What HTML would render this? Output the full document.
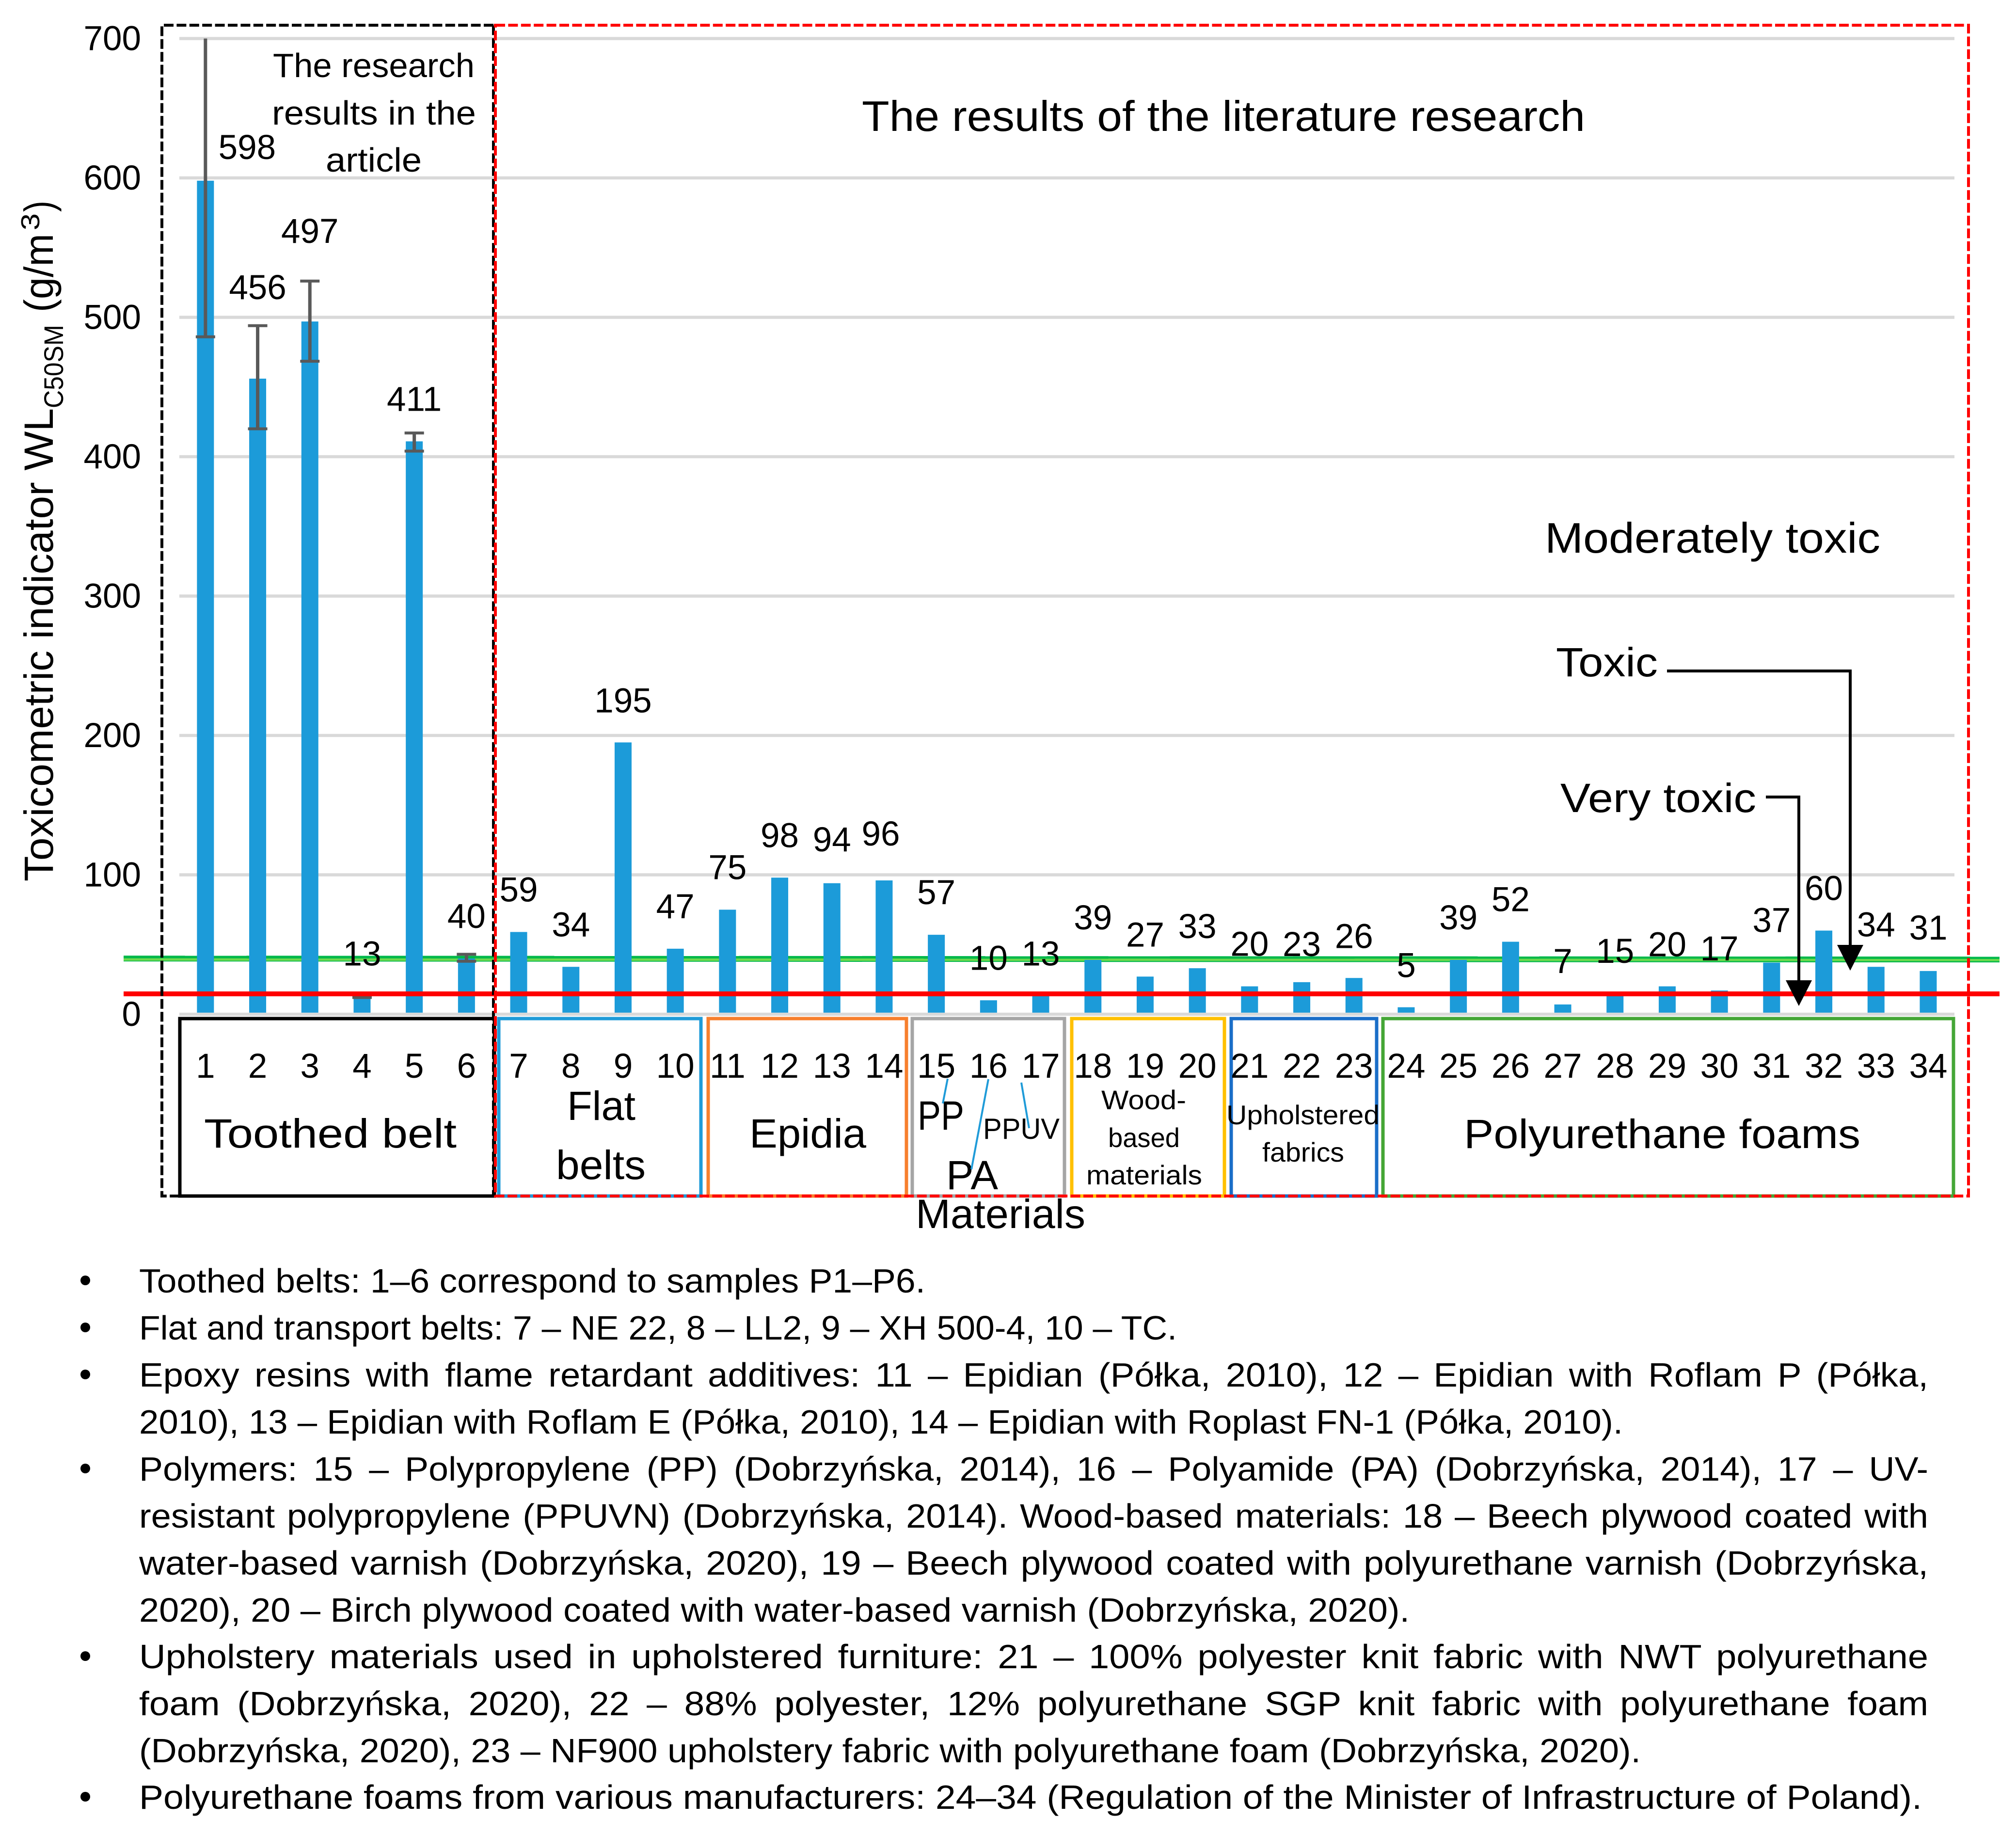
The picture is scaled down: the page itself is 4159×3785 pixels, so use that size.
<!DOCTYPE html>
<html lang="en">
<head>
<meta charset="utf-8">
<title>Toxicometric indicator chart</title>
<style>
html,body{margin:0;padding:0;background:#fff;}
svg{display:block;}
text{font-family:"Liberation Sans",sans-serif;fill:#000;}
</style>
</head>
<body>
<svg id="chart" xmlns="http://www.w3.org/2000/svg" width="4159" height="3785" viewBox="0 0 4159 3785">
<rect width="4159" height="3785" fill="#fff"/>
<g id="grid"></g>
<g id="thresh-back"></g>
<g id="bars"></g>
<g id="zero"></g>
<g id="errs"></g>
<g id="thresh-front"></g>

<g fill="none" stroke-width="7">
<rect x="371" y="2101" width="649" height="366" stroke="#000"/>
<rect x="1029" y="2101" width="417" height="366" stroke="#1f9bd8"/>
<rect x="1461" y="2101" width="409" height="366" stroke="#f77f2d"/>
<rect x="1882" y="2101" width="314" height="366" stroke="#a5a5a5"/>
<rect x="2211" y="2101" width="315" height="366" stroke="#ffc000"/>
<rect x="2540" y="2101" width="300" height="366" stroke="#1a6ec8"/>
<rect x="2853" y="2101" width="1177" height="366" stroke="#44a636"/>
</g>

<path d="M1018 52H334V2467H1018Z" fill="none" stroke="#000" stroke-width="6" stroke-dasharray="20 6.4"/>
<path d="M1022 52H4061V2467H1022Z" fill="none" stroke="#f00" stroke-width="6" stroke-dasharray="20 6.4"/>

<g id="ticks"></g>
<g id="labels"></g>

<g>
<text transform="translate(109,1818) rotate(-90)" font-size="84" textLength="976" lengthAdjust="spacingAndGlyphs">Toxicometric indicator WL</text>
<text transform="translate(130,842) rotate(-90)" font-size="56" textLength="172" lengthAdjust="spacingAndGlyphs">C50SM</text>
<text transform="translate(109,644) rotate(-90)" font-size="84" textLength="162" lengthAdjust="spacingAndGlyphs">(g/m</text>
<text transform="translate(81,475) rotate(-90)" font-size="54" textLength="35" lengthAdjust="spacingAndGlyphs">3</text>
<text transform="translate(109,437) rotate(-90)" font-size="84" textLength="23" lengthAdjust="spacingAndGlyphs">)</text>
</g>

<g>
<text x="563" y="159" font-size="70" textLength="416" lengthAdjust="spacingAndGlyphs">The research</text>
<text x="561" y="257" font-size="70" textLength="421" lengthAdjust="spacingAndGlyphs">results in the</text>
<text x="672" y="354" font-size="70" textLength="198" lengthAdjust="spacingAndGlyphs">article</text>
<text x="1778" y="270" font-size="88" textLength="1492" lengthAdjust="spacingAndGlyphs">The results of the literature research</text>
<text x="3187" y="1140" font-size="88" textLength="692" lengthAdjust="spacingAndGlyphs">Moderately toxic</text>
<text x="3210" y="1395" font-size="84" textLength="210" lengthAdjust="spacingAndGlyphs">Toxic</text>
<text x="3219" y="1675" font-size="84" textLength="404" lengthAdjust="spacingAndGlyphs">Very toxic</text>
<path d="M3439 1384H3817V1955" fill="none" stroke="#000" stroke-width="6"/>
<polygon points="3790,1949 3844,1949 3817,2002" fill="#000"/>
<path d="M3643 1644H3711V2028" fill="none" stroke="#000" stroke-width="6"/>
<polygon points="3684,2022 3738,2022 3711,2075" fill="#000"/>
</g>

<g>
<text x="421" y="2367" font-size="84" textLength="521" lengthAdjust="spacingAndGlyphs">Toothed belt</text>
<text x="1170" y="2310" font-size="84" textLength="141" lengthAdjust="spacingAndGlyphs">Flat</text>
<text x="1147" y="2432" font-size="84" textLength="185" lengthAdjust="spacingAndGlyphs">belts</text>
<text x="1546" y="2367" font-size="84" textLength="241" lengthAdjust="spacingAndGlyphs">Epidia</text>
<text x="1893" y="2330" font-size="84" textLength="96" lengthAdjust="spacingAndGlyphs">PP</text>
<text x="1952" y="2453" font-size="84" textLength="107" lengthAdjust="spacingAndGlyphs">PA</text>
<text x="2028" y="2349" font-size="60" textLength="158" lengthAdjust="spacingAndGlyphs">PPUV</text>
<text x="2272" y="2288" font-size="56" textLength="175" lengthAdjust="spacingAndGlyphs">Wood-</text>
<text x="2286" y="2366" font-size="56" textLength="148" lengthAdjust="spacingAndGlyphs">based</text>
<text x="2241" y="2443" font-size="56" textLength="239" lengthAdjust="spacingAndGlyphs">materials</text>
<text x="2530" y="2319" font-size="56" textLength="316" lengthAdjust="spacingAndGlyphs">Upholstered</text>
<text x="2604" y="2396" font-size="56" textLength="169" lengthAdjust="spacingAndGlyphs">fabrics</text>
<text x="3020" y="2368" font-size="84" textLength="818" lengthAdjust="spacingAndGlyphs">Polyurethane foams</text>
<text x="1889" y="2533" font-size="84" textLength="350" lengthAdjust="spacingAndGlyphs">Materials</text>
<line x1="1955" y1="2225" x2="1945" y2="2276" stroke="#1f9bd8" stroke-width="4"/>
<line x1="2039" y1="2226" x2="2004" y2="2412" stroke="#1f9bd8" stroke-width="4"/>
<line x1="2107" y1="2233" x2="2123" y2="2327" stroke="#1f9bd8" stroke-width="4"/>
</g>

<g font-size="70">
<circle cx="176" cy="2641" r="10" fill="#000"/>
<circle cx="176" cy="2738" r="10" fill="#000"/>
<circle cx="176" cy="2835" r="10" fill="#000"/>
<circle cx="176" cy="3029" r="10" fill="#000"/>
<circle cx="176" cy="3416" r="10" fill="#000"/>
<circle cx="176" cy="3706" r="10" fill="#000"/>
<text x="287" y="2666" font-size="70" textLength="1622" lengthAdjust="spacingAndGlyphs">Toothed belts: 1–6 correspond to samples P1–P6.</text>
<text x="287" y="2763" font-size="70" textLength="2141" lengthAdjust="spacingAndGlyphs">Flat and transport belts: 7 – NE 22, 8 – LL2, 9 – XH 500-4, 10 – TC.</text>
<text x="287" y="2860" font-size="70" word-spacing="10" textLength="3691" lengthAdjust="spacingAndGlyphs">Epoxy resins with flame retardant additives: 11 – Epidian (Półka, 2010), 12 – Epidian with Roflam P (Półka,</text>
<text x="287" y="2957" font-size="70" textLength="3061" lengthAdjust="spacingAndGlyphs">2010), 13 – Epidian with Roflam E (Półka, 2010), 14 – Epidian with Roplast FN-1 (Półka, 2010).</text>
<text x="287" y="3054" font-size="70" word-spacing="12" textLength="3691" lengthAdjust="spacingAndGlyphs">Polymers: 15 – Polypropylene (PP) (Dobrzyńska, 2014), 16 – Polyamide (PA) (Dobrzyńska, 2014), 17 – UV-</text>
<text x="287" y="3151" font-size="70" word-spacing="4" textLength="3691" lengthAdjust="spacingAndGlyphs">resistant polypropylene (PPUVN) (Dobrzyńska, 2014). Wood-based materials: 18 – Beech plywood coated with</text>
<text x="287" y="3248" font-size="70" word-spacing="4" textLength="3691" lengthAdjust="spacingAndGlyphs">water-based varnish (Dobrzyńska, 2020), 19 – Beech plywood coated with polyurethane varnish (Dobrzyńska,</text>
<text x="287" y="3345" font-size="70" textLength="2621" lengthAdjust="spacingAndGlyphs">2020), 20 – Birch plywood coated with water-based varnish (Dobrzyńska, 2020).</text>
<text x="287" y="3441" font-size="70" word-spacing="9" textLength="3691" lengthAdjust="spacingAndGlyphs">Upholstery materials used in upholstered furniture: 21 – 100% polyester knit fabric with NWT polyurethane</text>
<text x="287" y="3538" font-size="70" word-spacing="14" textLength="3691" lengthAdjust="spacingAndGlyphs">foam (Dobrzyńska, 2020), 22 – 88% polyester, 12% polyurethane SGP knit fabric with polyurethane foam</text>
<text x="287" y="3635" font-size="70" textLength="3098" lengthAdjust="spacingAndGlyphs">(Dobrzyńska, 2020), 23 – NF900 upholstery fabric with polyurethane foam (Dobrzyńska, 2020).</text>
<text x="287" y="3731" font-size="70" textLength="3678" lengthAdjust="spacingAndGlyphs">Polyurethane foams from various manufacturers: 24–34 (Regulation of the Minister of Infrastructure of Poland).</text>
</g>
</svg>
<script>
const categories = [1,2,3,4,5,6,7,8,9,10,11,12,13,14,15,16,17,18,19,20,21,22,23,24,25,26,27,28,29,30,31,32,33,34];
const values = [598,456,497,13,411,40,59,34,195,47,75,98,94,96,57,10,13,39,27,33,20,23,26,5,39,52,7,15,20,17,37,60,34,31];
const errorLow = [486,420,468.5,12,404,38];
const errorHigh = [700,494,526,14,417,43];
const yTicks = [0,100,200,300,400,500,600,700];
const toxicLevel = 39.6;
const veryToxicLevel = 14.6;
// Hand-placed label gaps above each bar, as in the source figure (layout, not data)
const labelGap = [45,164,162,63,63,63,63,63,62,63,63,63,66,72,63,63,63,63,62,62,63,54,62,62,63,63,65,63,62,62,63,63,63,65];
const labelShift = [86,0,0,0,0,0,0,0,0,0,0,0,0,-7,0,0,0,0,0,0,0,0,0,0,0,0,0,0,0,0,0,0,0,0];

const NS = 'http://www.w3.org/2000/svg';
const plot = {x0: 370, step: 107.7, y0: 2092, perUnit: 2.875, right: 4032};
function xScale(index) { return plot.x0 + plot.step * (index + 0.5); }
function yScale(value) { return plot.y0 - value * plot.perUnit; }
function make(tag, parentId, attrs, text) {
  const el = document.createElementNS(NS, tag);
  for (const k in attrs) el.setAttribute(k, attrs[k]);
  if (text !== undefined) el.textContent = text;
  document.getElementById(parentId).appendChild(el);
  return el;
}

yTicks.forEach(function (t) {
  const parent = t === 0 ? 'zero' : 'grid';
  const line = make('line', parent, {x1: plot.x0, x2: plot.right, y1: yScale(t), y2: yScale(t), stroke: '#d9d9d9', 'stroke-width': 6.5});
  
  
  const label = make('text', 'ticks', {x: 291, y: yScale(t) + 24, 'font-size': 71, 'text-anchor': 'end'}, String(t));
  
  
});

const toxicDark = make('line', 'thresh-back', {x1: 255, x2: 4125, y1: yScale(toxicLevel) - 1, y2: yScale(toxicLevel) + 1, stroke: '#00b84a', 'stroke-width': 12});


const toxicLight = make('line', 'thresh-back', {x1: 255, x2: 4125, y1: yScale(toxicLevel) + 1, y2: yScale(toxicLevel) + 2, stroke: '#6ed84e', 'stroke-width': 5});



values.forEach(function (v, i) {
  const bar = make('rect', 'bars', {x: xScale(i) - 17.5, y: yScale(v), width: 35, height: plot.y0 - yScale(v), fill: '#1c9bd9'});
  
  
  const label = make('text', 'labels', {x: xScale(i) + labelShift[i], y: yScale(v) - labelGap[i], 'font-size': 71, 'text-anchor': 'middle'}, String(v));
  
  
  const tick = make('text', 'ticks', {x: xScale(i), y: 2223, 'font-size': 71, 'text-anchor': 'middle'}, String(categories[i]));
  
  
});

errorLow.forEach(function (low, i) {
  const high = errorHigh[i];
  const cx = xScale(i);
  const stem = make('line', 'errs', {x1: cx, x2: cx, y1: yScale(low), y2: yScale(high), stroke: '#595959', 'stroke-width': 7});
  
  
  const capLow = make('line', 'errs', {x1: cx - 20, x2: cx + 20, y1: yScale(low), y2: yScale(low), stroke: '#595959', 'stroke-width': 6});
  
  
  if (high < 700) {
    const capHigh = make('line', 'errs', {x1: cx - 20, x2: cx + 20, y1: yScale(high), y2: yScale(high), stroke: '#595959', 'stroke-width': 6});
    
    
  }
});

const veryToxic = make('line', 'thresh-front', {x1: 255, x2: 4125, y1: yScale(veryToxicLevel), y2: yScale(veryToxicLevel), stroke: '#ff0000', 'stroke-width': 10});


</script>
</body>
</html>
